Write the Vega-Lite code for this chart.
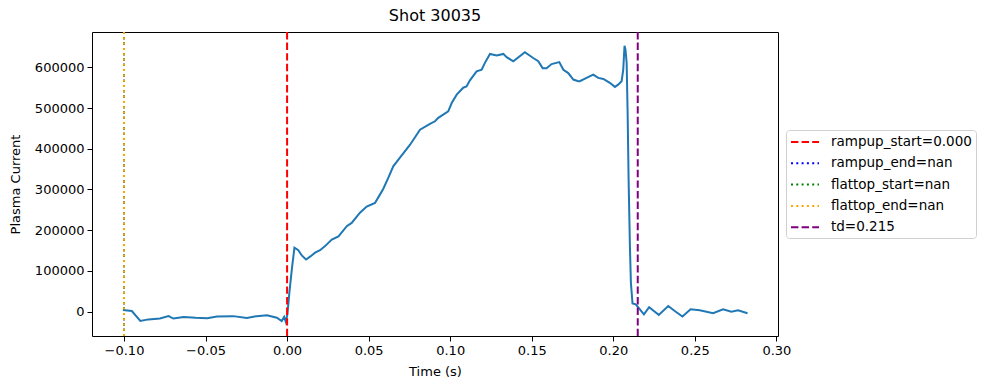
{
  "$schema": "https://vega.github.io/schema/vega-lite/v6.json",
  "width": 686,
  "height": 304,
  "autosize": {"type": "none"},
  "padding": {"left": 92, "top": 32, "right": 211, "bottom": 54},
  "background": "white",
  "title": {"text": "Shot 30035", "fontSize": 16, "font": "DejaVu Sans", "fontWeight": "normal", "color": "black", "offset": 7, "anchor": "middle"},
  "datasets": {
    "signal": [
      {"t": -0.1007, "I": 4000}, {"t": -0.0952, "I": 1500}, {"t": -0.09, "I": -23000}, {"t": -0.085, "I": -19000},
      {"t": -0.078, "I": -17000}, {"t": -0.0727, "I": -11000}, {"t": -0.0697, "I": -17000}, {"t": -0.0635, "I": -13000},
      {"t": -0.056, "I": -15000}, {"t": -0.049, "I": -16000}, {"t": -0.043, "I": -12000}, {"t": -0.033, "I": -11000},
      {"t": -0.0247, "I": -15500}, {"t": -0.0186, "I": -11000}, {"t": -0.0124, "I": -9000}, {"t": -0.0063, "I": -15000},
      {"t": -0.0033, "I": -23000}, {"t": -0.0018, "I": -13000}, {"t": -0.0008, "I": -25000}, {"t": 0.0002, "I": -6000},
      {"t": 0.0014, "I": 46600}, {"t": 0.0029, "I": 104000}, {"t": 0.0045, "I": 157000}, {"t": 0.0069, "I": 151000},
      {"t": 0.009, "I": 138000}, {"t": 0.0116, "I": 128000}, {"t": 0.0141, "I": 135000}, {"t": 0.0172, "I": 145000},
      {"t": 0.0202, "I": 151000}, {"t": 0.0233, "I": 161000}, {"t": 0.0274, "I": 177000}, {"t": 0.0315, "I": 185000},
      {"t": 0.0366, "I": 210000}, {"t": 0.0396, "I": 218000}, {"t": 0.0447, "I": 243000}, {"t": 0.0488, "I": 258000},
      {"t": 0.0539, "I": 267000}, {"t": 0.057, "I": 288000}, {"t": 0.059, "I": 302000}, {"t": 0.0621, "I": 329000},
      {"t": 0.0651, "I": 357000}, {"t": 0.0692, "I": 378000}, {"t": 0.0754, "I": 410000}, {"t": 0.0815, "I": 447000},
      {"t": 0.0876, "I": 461000}, {"t": 0.0907, "I": 467500}, {"t": 0.0927, "I": 476000}, {"t": 0.0988, "I": 492000},
      {"t": 0.101, "I": 513000}, {"t": 0.104, "I": 533000}, {"t": 0.108, "I": 550000}, {"t": 0.11, "I": 553000},
      {"t": 0.1121, "I": 568000}, {"t": 0.1162, "I": 590000}, {"t": 0.1193, "I": 594000}, {"t": 0.1213, "I": 611000},
      {"t": 0.1244, "I": 633000}, {"t": 0.1285, "I": 629000}, {"t": 0.1326, "I": 633000}, {"t": 0.1346, "I": 625000},
      {"t": 0.1387, "I": 615000}, {"t": 0.1458, "I": 637000}, {"t": 0.1509, "I": 623000}, {"t": 0.154, "I": 615000},
      {"t": 0.1567, "I": 598000}, {"t": 0.1591, "I": 598000}, {"t": 0.1622, "I": 608000}, {"t": 0.1669, "I": 613000},
      {"t": 0.1694, "I": 594000}, {"t": 0.1724, "I": 586000}, {"t": 0.1755, "I": 570000}, {"t": 0.1785, "I": 566000},
      {"t": 0.1795, "I": 566000}, {"t": 0.1836, "I": 574000}, {"t": 0.1877, "I": 582000}, {"t": 0.1908, "I": 574000},
      {"t": 0.1939, "I": 571500}, {"t": 0.1979, "I": 562000}, {"t": 0.201, "I": 552000}, {"t": 0.203, "I": 557500},
      {"t": 0.2051, "I": 566000}, {"t": 0.2061, "I": 594000}, {"t": 0.2069, "I": 653000}, {"t": 0.2075, "I": 643000},
      {"t": 0.2082, "I": 611000}, {"t": 0.2088, "I": 488000}, {"t": 0.2094, "I": 324500}, {"t": 0.2102, "I": 161000},
      {"t": 0.2108, "I": 71000}, {"t": 0.2118, "I": 20000}, {"t": 0.2138, "I": 18000}, {"t": 0.2163, "I": 5600},
      {"t": 0.2188, "I": -6600}, {"t": 0.222, "I": 11000}, {"t": 0.2249, "I": 1500}, {"t": 0.2279, "I": -8000},
      {"t": 0.2337, "I": 14000}, {"t": 0.2377, "I": 1500}, {"t": 0.2424, "I": -12000}, {"t": 0.2474, "I": 5600},
      {"t": 0.253, "I": 3200}, {"t": 0.2612, "I": -4000}, {"t": 0.2673, "I": 5600}, {"t": 0.2724, "I": 0},
      {"t": 0.2765, "I": 3200}, {"t": 0.2823, "I": -4000}
    ],
    "markers": [
      {"label": "rampup_start=0.000", "t": 0},
      {"label": "rampup_end=nan", "t": -0.1},
      {"label": "flattop_start=nan", "t": -0.1},
      {"label": "flattop_end=nan", "t": -0.1},
      {"label": "td=0.215", "t": 0.215}
    ]
  },
  "layer": [
    {
      "data": {"name": "signal"},
      "mark": {"type": "line", "color": "#1f77b4", "strokeWidth": 2, "clip": true},
      "encoding": {
        "x": {"field": "t", "type": "quantitative",
          "scale": {"domain": [-0.11962, 0.301], "nice": false, "zero": false},
          "axis": {"title": "Time (s)", "values": [-0.1, -0.05, 0, 0.05, 0.1, 0.15, 0.2, 0.25, 0.3], "format": ".2f", "labelPadding": 3, "titlePadding": 8}},
        "y": {"field": "I", "type": "quantitative",
          "scale": {"domain": [-59800, 686800], "nice": false, "zero": false},
          "axis": {"title": "Plasma Current", "values": [0, 100000, 200000, 300000, 400000, 500000, 600000], "format": "d", "labelPadding": 3, "titlePadding": 12}}
      }
    },
    {
      "data": {"name": "markers"},
      "mark": {"type": "rule", "strokeWidth": 2},
      "encoding": {
        "x": {"field": "t", "type": "quantitative"},
        "color": {"field": "label", "type": "nominal",
          "scale": {"domain": ["rampup_start=0.000", "rampup_end=nan", "flattop_start=nan", "flattop_end=nan", "td=0.215"], "range": ["#ff0000", "#0000ff", "#008000", "#ffa500", "#800080"]},
          "legend": {"orient": "none", "legendX": 694, "legendY": 98, "title": null}},
        "strokeDash": {"field": "label", "type": "nominal",
          "scale": {"domain": ["rampup_start=0.000", "rampup_end=nan", "flattop_start=nan", "flattop_end=nan", "td=0.215"], "range": [[7.4, 3.2], [2, 3.3], [2, 3.3], [2, 3.3], [7.4, 3.2]]},
          "legend": {"orient": "none", "legendX": 694, "legendY": 98, "title": null}}
      }
    }
  ],
  "config": {
    "view": {"stroke": "black", "strokeWidth": 1},
    "axis": {"grid": false, "domain": false, "tickColor": "black", "tickSize": 5, "tickWidth": 1, "labelFont": "DejaVu Sans", "labelFontSize": 13, "labelColor": "black", "labelFlush": false, "labelOverlap": false, "titleFont": "DejaVu Sans", "titleFontSize": 13, "titleFontWeight": "normal", "titleColor": "black"},
    "legend": {"symbolType": "M-1,0H3", "symbolSize": 196, "symbolStrokeWidth": 2, "symbolFillColor": "transparent", "labelFont": "DejaVu Sans", "labelFontSize": 13.5, "labelColor": "black", "labelOffset": 25, "rowPadding": 6.3, "padding": 4, "strokeColor": "#d0d0d0", "cornerRadius": 3, "fillColor": "white"}
  }
}
